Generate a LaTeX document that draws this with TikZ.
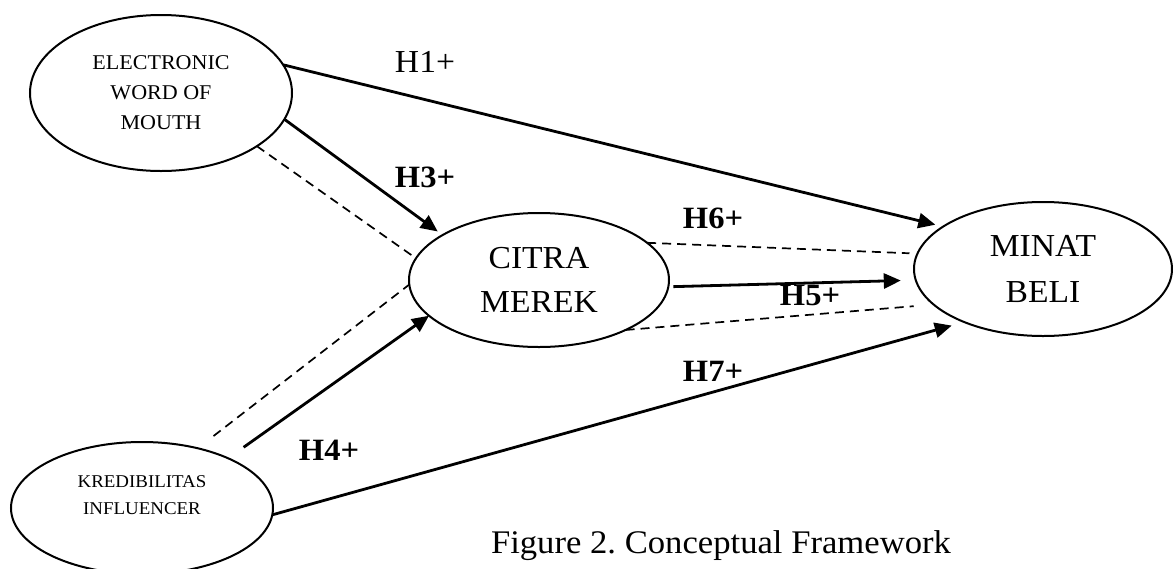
\documentclass[tikz,border=0pt]{standalone}
\usepackage{fontspec}
\setmainfont{Liberation Serif}[FakeStretch=1.05]
\usetikzlibrary{shapes.geometric,arrows.meta}
\begin{document}
\frenchspacing
\begin{tikzpicture}[x=1pt,y=-1pt,
  ell/.style={ellipse,draw,line width=2pt,inner sep=0pt,outer sep=0pt,align=center},
  arr/.style={line width=2.8pt,-{Triangle[length=17pt,width=15pt]}},
  dsh/.style={line width=1.7pt,dash pattern=on 9pt off 6pt},
  hyp/.style={font=\fontsize{31}{36}\selectfont\bfseries,anchor=base},
]
\useasboundingbox (0,0) rectangle (1173,568);
% constructs
\node[ell,minimum width=262pt,minimum height=156pt,font=\fontsize{21}{30}\selectfont] (ewom) at (161,93) {ELECTRONIC\\WORD OF\\MOUTH};
\node[ell,minimum width=260pt,minimum height=134pt,font=\fontsize{32}{44}\selectfont] (citra) at (539,280) {CITRA\\MEREK};
\node[ell,minimum width=258pt,minimum height=134pt,font=\fontsize{32}{46}\selectfont] (minat) at (1043,269) {MINAT\\BELI};
\node[ell,minimum width=262pt,minimum height=132pt] (kred) at (142,508) {};
\node[font=\fontsize{18}{27}\selectfont,align=center] (kredtxt) at (142,495) {KREDIBILITAS\\INFLUENCER};
% connectors
\draw[arr,shorten >=8pt] (ewom.13) -- (minat.157);
\draw[arr,shorten >=6pt] (ewom.-12) -- (citra.155);
\draw[dsh] (ewom.-29) -- (citra.170);
\draw[dsh,shorten <=20pt] (kred.47) -- (citra.182);
\draw[arr,shorten <=19pt] (kred.30) -- (citra.198);
\draw[arr,shorten >=13pt] (kred.-3) -- (minat.214);
\draw[arr,shorten <=5pt,shorten >=15pt] (citra.-3) -- (minat.185);
\draw[dsh,shorten >=8pt] (citra.19) -- (minat.173);
\draw[dsh,shorten >=20pt] (citra.-30) -- (minat.198);
% labels
\node[font=\fontsize{32}{36}\selectfont,anchor=base] (h1) at (425,72) {H1+};
\node[hyp] (h3) at (425,187) {H3+};
\node[hyp] (h6) at (713,228) {H6+};
\node[hyp] (h5) at (810,305) {H5+};
\node[hyp] (h7) at (713,381) {H7+};
\node[hyp] (h4) at (329,460) {H4+};
\node[font=\fontsize{33}{40}\selectfont,anchor=base] (caption) at (721,553) {Figure 2. Conceptual Framework};
\end{tikzpicture}
\end{document}
